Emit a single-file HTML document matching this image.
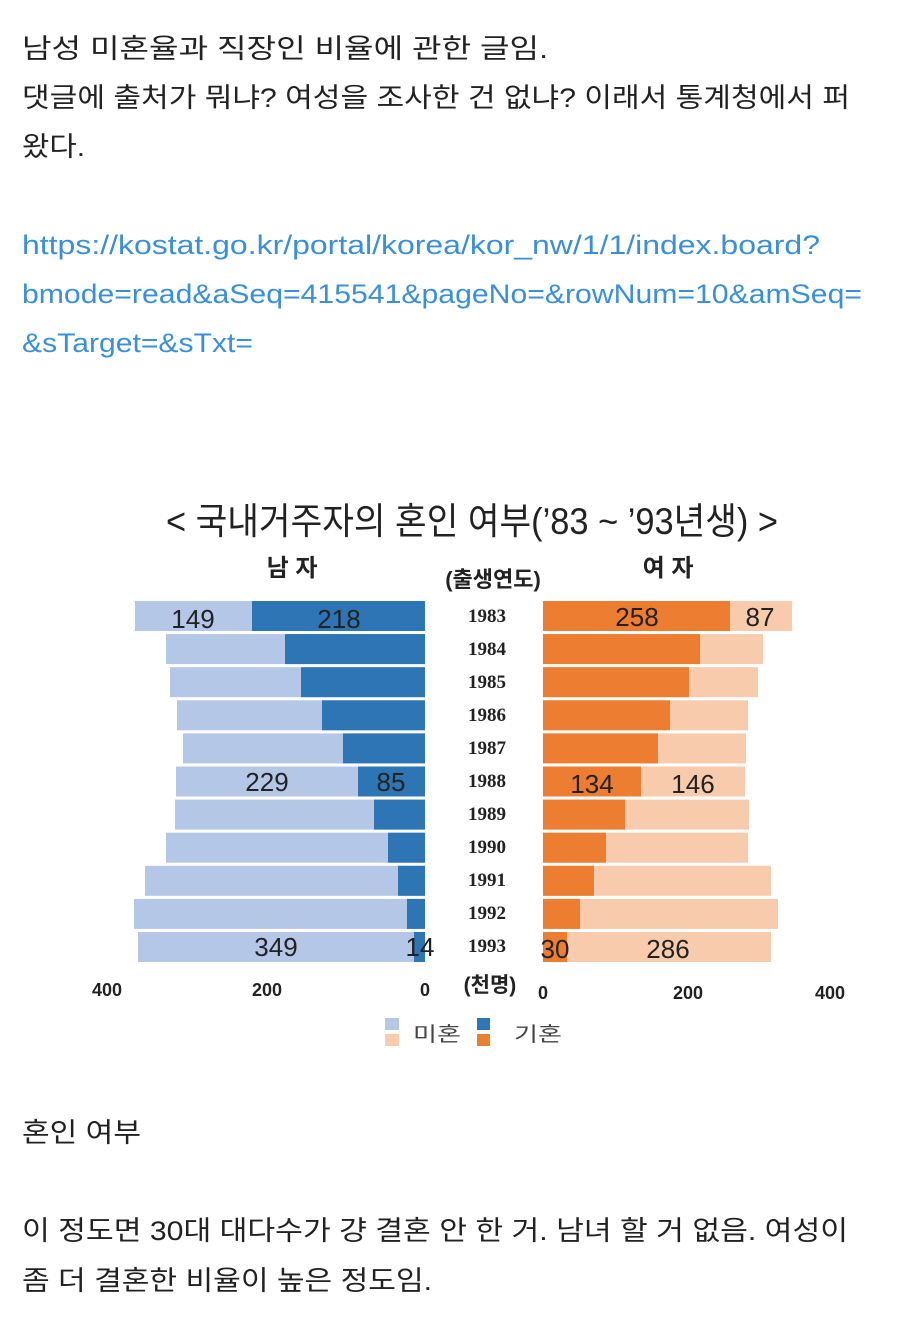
<!DOCTYPE html>
<html><head><meta charset="utf-8"><style>
body{margin:0;width:900px;height:1339px;background:#fff;position:relative;overflow:hidden;font-family:"Liberation Sans","Noto Sans CJK KR",sans-serif;}
</style></head><body>
<svg style="position:absolute;left:0;top:0" width="900" height="1339" font-family="'Liberation Sans','Noto Sans CJK KR',sans-serif">
<g font-size="27" fill="#222">
<text x="22" y="58" textLength="526" lengthAdjust="spacingAndGlyphs">남성 미혼율과 직장인 비율에 관한 글임.</text>
<text x="22" y="107" textLength="828" lengthAdjust="spacingAndGlyphs">댓글에 출처가 뭐냐? 여성을 조사한 건 없냐? 이래서 통계청에서 퍼</text>
<text x="22" y="156" textLength="63" lengthAdjust="spacingAndGlyphs">왔다.</text>
<text x="22" y="1142" textLength="119" lengthAdjust="spacingAndGlyphs">혼인 여부</text>
<text x="22" y="1240" textLength="826" lengthAdjust="spacingAndGlyphs">이 정도면 30대 대다수가 걍 결혼 안 한 거. 남녀 할 거 없음. 여성이</text>
<text x="22" y="1290" textLength="410" lengthAdjust="spacingAndGlyphs">좀 더 결혼한 비율이 높은 정도임.</text>
</g>
<g font-size="27" fill="#3a8fdd">
<text x="22" y="254" textLength="798" lengthAdjust="spacingAndGlyphs">https://kostat.go.kr/portal/korea/kor_nw/1/1/index.board?</text>
<text x="22" y="303" textLength="840" lengthAdjust="spacingAndGlyphs">bmode=read&amp;aSeq=415541&amp;pageNo=&amp;rowNum=10&amp;amSeq=</text>
<text x="22" y="352" textLength="231" lengthAdjust="spacingAndGlyphs">&amp;sTarget=&amp;sTxt=</text>
</g>
<text x="472" y="534" font-size="37" text-anchor="middle" textLength="612" lengthAdjust="spacingAndGlyphs" fill="#222">&lt; 국내거주자의 혼인 여부(’83 ~ ’93년생) &gt;</text>
<g font-weight="bold" fill="#222">
<text x="292" y="576" font-size="24" text-anchor="middle">남 자</text>
<text x="493" y="587" font-size="22" text-anchor="middle">(출생연도)</text>
<text x="668" y="576" font-size="24" text-anchor="middle">여 자</text>
</g>
<g id="bars"></g>
<g font-family="'Liberation Serif',serif" font-weight="bold" font-size="19" fill="#222" text-anchor="middle">
<text x="487" y="622">1983</text><text x="487" y="655">1984</text><text x="487" y="688">1985</text><text x="487" y="721">1986</text><text x="487" y="754">1987</text><text x="487" y="787">1988</text><text x="487" y="820">1989</text><text x="487" y="853">1990</text><text x="487" y="886">1991</text><text x="487" y="919">1992</text><text x="487" y="952">1993</text>
</g>
<g font-weight="bold" font-size="18" fill="#222" text-anchor="middle">
<text x="107" y="996">400</text><text x="267" y="996">200</text><text x="425" y="996">0</text><text x="490" y="992" font-size="21">(천명)</text><text x="543" y="999">0</text><text x="688" y="999">200</text><text x="830" y="999">400</text>
</g>
<rect x="385" y="1018" width="14" height="12" fill="#b4c7e7"/><rect x="385" y="1034" width="14" height="12" fill="#f8cbad"/>
<rect x="477" y="1018" width="13" height="12" fill="#2e75b6"/><rect x="477" y="1034" width="13" height="12" fill="#ed7d31"/>
<text x="413" y="1041" font-size="20" fill="#444" textLength="48" lengthAdjust="spacingAndGlyphs">미혼</text><text x="514" y="1041" font-size="20" fill="#444" textLength="48" lengthAdjust="spacingAndGlyphs">기혼</text>
<g font-size="26" fill="#222" text-anchor="middle">
<text x="193" y="628">149</text><text x="339" y="628">218</text><text x="637" y="626">258</text><text x="760" y="626">87</text>
<text x="267" y="791">229</text><text x="391" y="791">85</text><text x="592" y="793">134</text><text x="693" y="793">146</text>
<text x="276" y="956">349</text><text x="420" y="956">14</text><text x="555" y="958">30</text><text x="668" y="958">286</text>
</g>
</svg>
<script>
var m=[[135,252],[166,285],[170,301],[177,322],[183,343],[176,358],[175,374],[166,388],[145,398],[134,407],[138,414]];
var f=[[730,792],[700,763],[689,758],[670,748],[658,746],[641,745],[625,749],[606,748],[594,771],[580,778],[567,771]];
var s='';
for(var i=0;i<11;i++){var y=601+i*33.1;
s+='<rect x="'+m[i][0]+'" y="'+y+'" width="'+(425-m[i][0])+'" height="30" fill="#b4c7e7"/>';
s+='<rect x="'+m[i][1]+'" y="'+y+'" width="'+(425-m[i][1])+'" height="30" fill="#2e75b6"/>';
s+='<rect x="543" y="'+y+'" width="'+(f[i][1]-543)+'" height="30" fill="#f8cbad"/>';
s+='<rect x="543" y="'+y+'" width="'+(f[i][0]-543)+'" height="30" fill="#ed7d31"/>';}
document.getElementById('bars').innerHTML=s;
</script>
</body></html>
